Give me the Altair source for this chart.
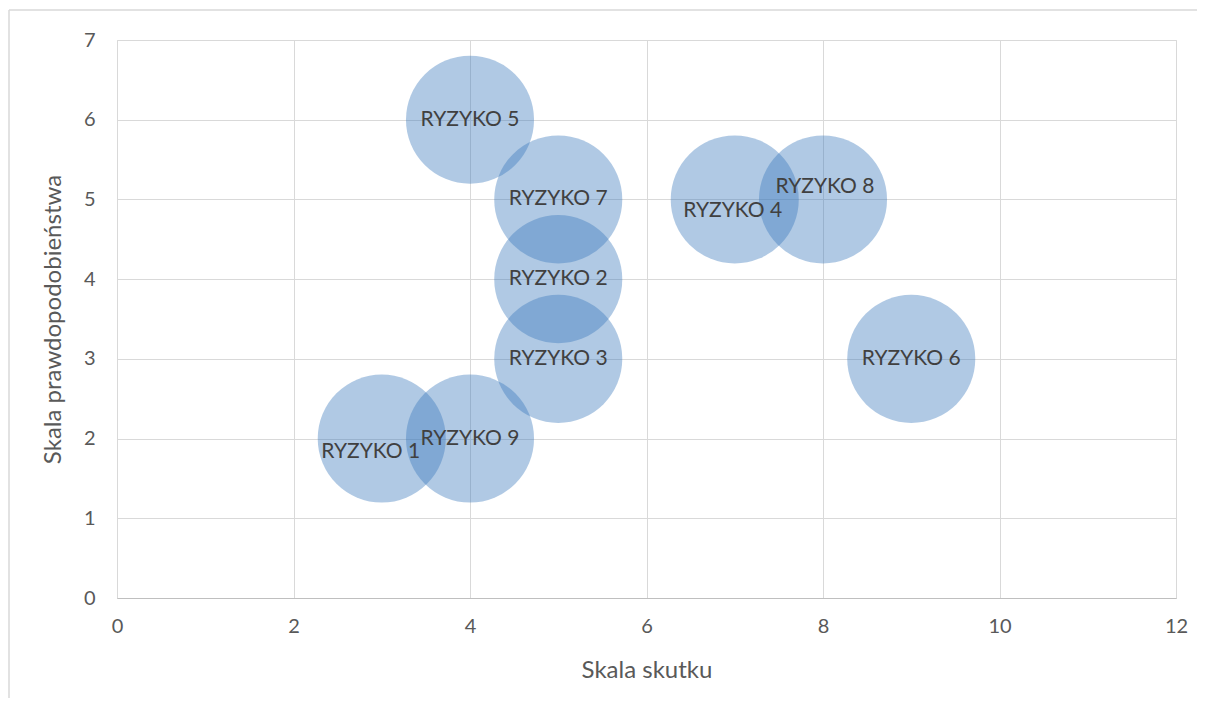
import altair as alt
import pandas as pd

labels = ["RYZYKO 1", "RYZYKO 2", "RYZYKO 3", "RYZYKO 4", "RYZYKO 5",
          "RYZYKO 6", "RYZYKO 7", "RYZYKO 8", "RYZYKO 9"]
impact = [3, 5, 5, 7, 4, 9, 5, 8, 4]          # Skala skutku
probability = [2, 4, 3, 5, 6, 3, 5, 5, 2]     # Skala prawdopodobieństwa
# label nudges (pixels) as placed in the original chart
label_dx = [-11, 0, 0, -2, 0, 0, 0, 2, 0]
label_dy = [13, 0, 0, 12, 0, 0, 0, -12, 0]

df = pd.DataFrame({"label": labels, "x": impact, "y": probability})

FONT = "Lato"
GRID = "#D9D9D9"
TXT = "#595959"

x_enc = alt.X("x:Q", scale=alt.Scale(domain=[0, 12], nice=False),
              axis=alt.Axis(title="Skala skutku", values=[0, 2, 4, 6, 8, 10, 12],
                            format="d", labelFlush=False,
                            grid=True, gridColor=GRID, domainColor="#BFBFBF",
                            ticks=False, labelPadding=18, titlePadding=22,
                            labelFontSize=20, titleFontSize=24, labelFont=FONT,
                            titleFont=FONT, labelColor=TXT, titleColor=TXT,
                            titleFontWeight="normal"))
y_enc = alt.Y("y:Q", scale=alt.Scale(domain=[0, 7], nice=False),
              axis=alt.Axis(title="Skala prawdopodobieństwa",
                            values=[0, 1, 2, 3, 4, 5, 6, 7], format="d",
                            labelFlush=False,
                            grid=True, gridColor=GRID, domain=False,
                            ticks=False, labelPadding=22, titlePadding=18,
                            labelFontSize=20, titleFontSize=24, labelFont=FONT,
                            titleFont=FONT, labelColor=TXT, titleColor=TXT,
                            titleFontWeight="normal"))

base = alt.Chart(df)
one = base.transform_filter(alt.datum.label == "RYZYKO 1")

frame_top = one.mark_rule(color=GRID, strokeWidth=1.5).encode(
    x=alt.value(-108), x2=alt.value(1300), y=alt.value(-30)
)
frame_left = one.mark_rule(color=GRID, strokeWidth=1.5).encode(
    x=alt.value(-108), y=alt.value(-30), y2=alt.value(800)
)

bubbles = base.mark_circle(size=16400, color="#3978BB", opacity=0.4).encode(
    x=x_enc, y=y_enc
)

texts = []
for lab, dx, dy in zip(labels, label_dx, label_dy):
    texts.append(
        base.transform_filter(alt.datum.label == lab).mark_text(
            font=FONT, fontSize=21, color="#404040", baseline="middle",
            align="center", dx=dx, dy=dy
        ).encode(x="x:Q", y="y:Q", text="label:N")
    )

chart = alt.layer(frame_top, frame_left, bubbles, *texts).properties(
    width=1059, height=558,
    autosize=alt.AutoSizeParams(type="none"),
    padding={"left": 109, "top": 32, "right": 21, "bottom": 100},
).configure_view(stroke=None).configure(background="white")

chart.save("out.html", embed_options={"renderer": "svg", "actions": False})
